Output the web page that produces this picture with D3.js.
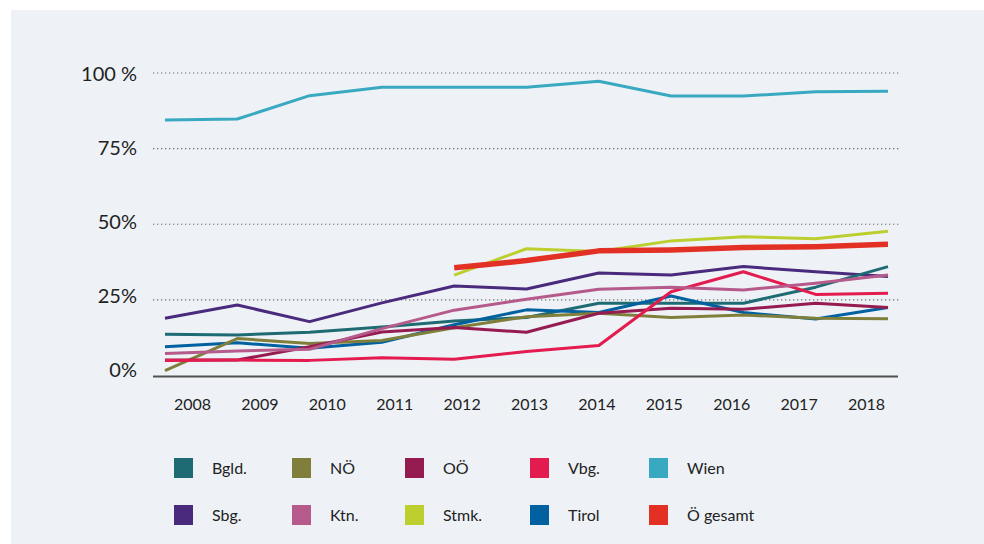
<!DOCTYPE html>
<html>
<head>
<meta charset="utf-8">
<script src="https://cdn.jsdelivr.net/npm/d3@7"></script>
<style>
  html, body { margin: 0; padding: 0; background: #ffffff; }
  svg { display: block; }
  text { font-family: Lato, "Noto Sans", sans-serif; fill: #222; }
</style>
</head>
<body>
<svg id="chart" width="984" height="544"></svg>
<script>
const years = [2008, 2009, 2010, 2011, 2012, 2013, 2014, 2015, 2016, 2017, 2018];
const yTicks = [0, 25, 50, 75, 100];
const yTickLabels = ["0%", "25%", "50%", "75%", "100 %"];

const seriesNames = ["Bgld.", "NÖ", "OÖ", "Vbg.", "Wien", "Sbg.", "Ktn.", "Stmk.", "Tirol", "Ö gesamt"];
const seriesColors = ["#1f6b74", "#7f7f3b", "#951b51", "#e31b4e", "#39a9c1", "#4a2a7c", "#b55a8b", "#bccf2f", "#0061a0", "#e33025"];

const bgld    = [13.6, 13.4, 14.3, 16.0, 18.0, 19.2, 23.9, 23.9, 23.9, 29.2, 36.0];
const noe     = [1.6, 12.2, 10.6, 11.6, 15.8, 19.4, 20.6, 19.2, 20.0, 18.9, 18.8];
const ooe     = [5.1, 5.1, 9.5, 14.4, 15.9, 14.3, 20.6, 22.2, 21.9, 23.9, 22.5];
const vbg     = [5.0, 5.1, 5.0, 5.9, 5.4, 7.9, 9.9, 27.7, 34.3, 26.8, 27.2];
const wien    = [84.5, 84.8, 92.5, 95.3, 95.3, 95.3, 97.3, 92.4, 92.4, 93.8, 94.0];
const sbg     = [18.9, 23.3, 17.8, 24.0, 29.6, 28.6, 33.9, 33.2, 36.0, 34.3, 32.7];
const ktn     = [7.3, 8.1, 8.7, 15.5, 21.6, 25.2, 28.5, 29.2, 28.3, 30.5, 33.2];
const stmk    = [null, null, null, null, 33.2, 41.9, 41.0, 44.5, 45.9, 45.2, 47.7];
const tirol   = [9.5, 10.8, 9.0, 11.0, 16.8, 21.7, 20.8, 26.3, 20.8, 18.7, 22.5];
const gesamt  = [null, null, null, null, 35.6, 38.0, 41.2, 41.5, 42.3, 42.6, 43.4];

const seriesValues = [bgld, noe, ooe, vbg, wien, sbg, ktn, stmk, tirol, gesamt];
// drawing order (bottom to top)
const drawOrder = ["Wien", "Sbg.", "Bgld.", "Tirol", "NÖ", "OÖ", "Vbg.", "Ktn.", "Stmk.", "Ö gesamt"];

const svg = d3.select("#chart");

svg.append("rect")
  .attr("x", 11).attr("y", 10)
  .attr("width", 973).attr("height", 534)
  .attr("fill", "#eef2f6");

const x = d3.scalePoint().domain(years).range([165, 888]);
const xLabel = d3.scalePoint().domain(years).range([192, 866]);
const y = d3.scaleLinear().domain([0, 100]).range([375.5, 73]);
const yLabel = d3.scaleLinear().domain([0, 100]).range([369, 73.5]);

// grid lines
const grid = svg.append("g");
grid.selectAll("line")
  .data(yTicks.filter(d => d > 0))
  .join("line")
  .attr("x1", 153).attr("x2", 901)
  .attr("y1", d => y(d)).attr("y2", d => y(d))
  .attr("stroke", "#6d6d6d")
  .attr("stroke-width", 1.2)
  .attr("stroke-dasharray", "1.3,2.7");

// y axis labels
const yAxis = d3.axisLeft(yLabel).tickValues(yTicks)
  .tickFormat((d, i) => yTickLabels[i]).tickSize(0).tickPadding(0);
const yg = svg.append("g").attr("transform", "translate(137,0)").call(yAxis);
yg.select(".domain").remove();
yg.selectAll("text")
  .style("font-size", "20px")
  .style("font-family", "Lato, 'Noto Sans', sans-serif")
  .attr("fill", "#222")
  .attr("dy", "0.35em");

// x axis
svg.append("line")
  .attr("x1", 153).attr("x2", 898)
  .attr("y1", 376.5).attr("y2", 376.5)
  .attr("stroke", "#505050").attr("stroke-width", 2);

const xAxis = d3.axisBottom(xLabel).tickSize(0).tickPadding(0).tickFormat(d3.format("d"));
const xg = svg.append("g").attr("transform", "translate(0,404)").call(xAxis);
xg.select(".domain").remove();
xg.selectAll("text")
  .style("font-size", "16px")
  .style("font-family", "Lato, 'Noto Sans', sans-serif")
  .attr("fill", "#222")
  .attr("dy", "0.35em");

// lines
const line = d3.line()
  .defined(d => d.v !== null)
  .x(d => x(d.year))
  .y(d => y(d.v));

const series = seriesNames.map((name, i) => ({
  name, color: seriesColors[i],
  values: years.map((yr, j) => ({ year: yr, v: seriesValues[i][j] }))
}));

const linesG = svg.append("g");
drawOrder.forEach(name => {
  const s = series.find(d => d.name === name);
  linesG.append("path")
    .attr("d", line(s.values))
    .attr("fill", "none")
    .attr("stroke", s.color)
    .attr("stroke-width", name === "Ö gesamt" ? 5.5 : 3)
    .attr("stroke-linejoin", "round")
    .attr("stroke-linecap", "butt");
});

// legend
const legCols = [174, 292, 405, 530, 649];
const legRows = [458, 505];
const legend = svg.append("g");
series.forEach((s, i) => {
  const col = i % 5, row = Math.floor(i / 5);
  const g = legend.append("g").attr("transform", `translate(${legCols[col]},${legRows[row]})`);
  g.append("rect").attr("width", 19).attr("height", 20).attr("fill", s.color);
  g.append("text").attr("x", 38).attr("y", 10).attr("dy", "0.35em")
    .style("font-size", "16px").text(s.name);
});
</script>
</body>
</html>
